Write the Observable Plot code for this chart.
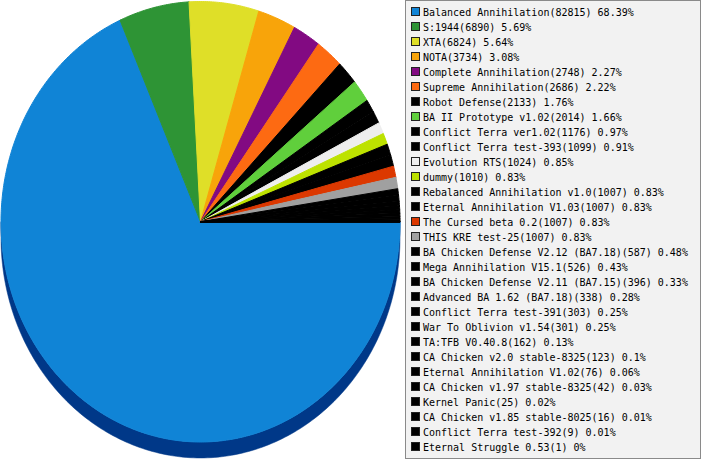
<!DOCTYPE html>
<html>
<head>
<meta charset="utf-8">
<script src="https://cdn.jsdelivr.net/npm/d3@7"></script>
<script src="https://cdn.jsdelivr.net/npm/@observablehq/plot@0.6"></script>
<style>
  body { margin: 0; background: #fff; }
  #wrap { position: relative; width: 701px; height: 460px; }
  #chart { position: absolute; left: 0; top: 0; }
  #legend {
    position: absolute; left: 405px; top: 0; width: 294px; height: 457px;
    background: #f2f2f2; border: 1px solid #8a8a8a;
    font: 10px "DejaVu Sans Mono", monospace; color: #000;
  }
  .row { position: absolute; left: 5px; height: 15px; line-height: 15px; white-space: nowrap; }
  .sw { display: inline-block; width: 7px; height: 7px; border: 1px solid #222; margin-right: 3px; }
</style>
</head>
<body>
<div id="wrap">
  <div id="chart"></div>
  <div id="legend"></div>
</div>
<script>
// mods et nombre de parties
const names = [
  'Balanced Annihilation', 'S:1944', 'XTA', 'NOTA', 'Complete Annihilation',
  'Supreme Annihilation', 'Robot Defense', 'BA II Prototype v1.02', 'Conflict Terra ver1.02',
  'Conflict Terra test-393', 'Evolution RTS', 'dummy', 'Rebalanced Annihilation v1.0',
  'Eternal Annihilation V1.03', 'The Cursed beta 0.2', 'THIS KRE test-25',
  'BA Chicken Defense V2.12 (BA7.18)', 'Mega Annihilation V15.1', 'BA Chicken Defense V2.11 (BA7.15)',
  'Advanced BA 1.62 (BA7.18)', 'Conflict Terra test-391', 'War To Oblivion v1.54', 'TA:TFB V0.40.8',
  'CA Chicken v2.0 stable-8325', 'Eternal Annihilation V1.02', 'CA Chicken v1.97 stable-8325',
  'Kernel Panic', 'CA Chicken v1.85 stable-8025', 'Conflict Terra test-392', 'Eternal Struggle 0.53'
]
const values = [82815, 6890, 6824, 3734, 2748, 2686, 2133, 2014, 1176, 1099, 1024, 1010, 1007, 1007,
  1007, 1007, 587, 526, 396, 338, 303, 301, 162, 123, 76, 42, 25, 16, 9, 1]
const colors = ['#1084d6', '#2e9435', '#dfdf28', '#f8a40a', '#820a82', '#fd6a12', '#000000', '#60cf3c',
  '#000000', '#000000', '#eeeeee', '#bde200', '#000000', '#000000', '#dc3800', '#a0a0a0',
  '#000000', '#000000', '#000000', '#000000', '#000000', '#000000', '#000000', '#000000',
  '#000000', '#000000', '#000000', '#000000', '#000000', '#000000']

const total = d3.sum(values)
const pct = v => +(v / total * 100).toFixed(2)

/* Parts en polygones : depart a 3h, sens horaire */
const slices = []
let acc = 0
values.forEach((v, i) => {
  const a0 = -2 * Math.PI * acc / total
  const a1 = -2 * Math.PI * (acc + v) / total
  const n = Math.max(2, Math.ceil(Math.abs(a1 - a0) / 0.01))
  slices.push({x: 0, y: 0, name: names[i]})
  for (let k = 0; k <= n; k++) {
    const a = a0 + (a1 - a0) * k / n
    slices.push({x: Math.cos(a), y: Math.sin(a), name: names[i]})
  }
  acc += v
})

/* Bord 3D (moitie basse, decalee) */
const depth = 16 / 220.5
const rim = []
for (let k = 0; k <= 180; k++) {
  const a = -Math.PI * k / 180
  rim.push({x: Math.cos(a), y: Math.sin(a) - depth})
}
for (let k = 180; k >= 0; k--) {
  const a = -Math.PI * k / 180
  rim.push({x: Math.cos(a), y: Math.sin(a)})
}

const chart = Plot.plot({
  width: 403,
  height: 460,
  margin: 0,
  x: {domain: [-1, 1], range: [0.5, 399.5], axis: null},
  y: {domain: [-1, 1], range: [441.5, 1], axis: null},
  color: {domain: names, range: colors},
  marks: [
    Plot.line(rim, {x: 'x', y: 'y', fill: '#003888', stroke: '#003888', strokeWidth: 0.5, curve: 'linear-closed'}),
    Plot.line(slices, {x: 'x', y: 'y', z: 'name', fill: 'name', stroke: 'name', strokeWidth: 1, strokeLinejoin: 'bevel', curve: 'linear-closed'})
  ]
})
d3.select('#chart').append(() => chart)

/* Legende */
const legend = d3.select('#legend')
names.forEach((n, i) => {
  const row = legend.append('div').attr('class', 'row').style('top', `${4 + 15 * i}px`)
  row.append('span').attr('class', 'sw').style('background', colors[i])
  row.append('span').text(`${n}(${values[i]}) ${pct(values[i])}%`)
})
</script>
</body>
</html>
